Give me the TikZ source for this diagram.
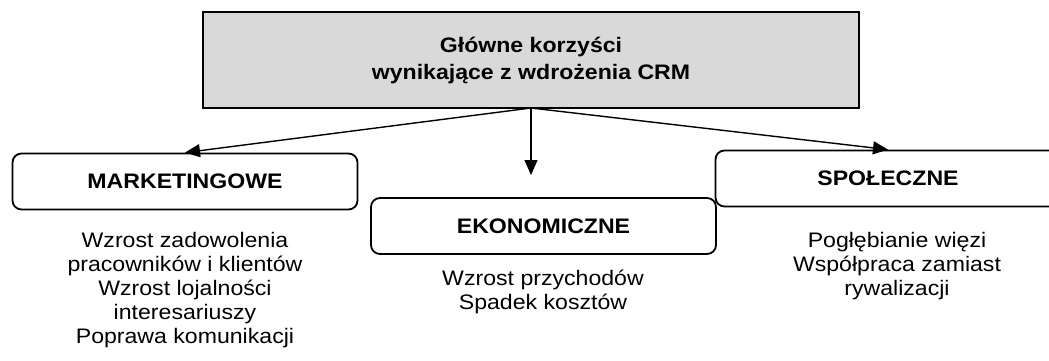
\documentclass[tikz,border=0pt]{standalone}
\usepackage{fontspec}
\setmainfont{Liberation Sans}[FakeStretch=1.1]
\usetikzlibrary{arrows.meta}
\definecolor{boxgray}{HTML}{D9D9D9}
\tikzset{
  titlebox/.style={draw=black, fill=boxgray, line width=1.6pt, minimum width=656pt, minimum height=96pt, inner sep=0pt, align=center, font=\fontsize{21}{27}\selectfont\bfseries},
  catbox/.style={draw=black, rounded corners=9pt, line width=1.8pt, minimum width=345pt, minimum height=56pt, inner sep=0pt, font=\fontsize{21}{24}\selectfont\bfseries},
  bodytext/.style={inner sep=0pt, align=center, font=\fontsize{21}{24}\selectfont},
  conn/.style={line width=1.4pt, -{Triangle[length=15pt,width=13pt]}}
}
\begin{document}
\begin{tikzpicture}[x=1pt,y=-1pt]
\useasboundingbox (0,0) rectangle (1049,361);
\clip (0,0) rectangle (1049,361);
\node[titlebox] (top) at (531,60) {Główne korzyści\\wynikające z wdrożenia CRM};
\node[catbox] (mk) at (185,181.5) {MARKETINGOWE};
\node[catbox] (ek) at (543.5,226) {EKONOMICZNE};
\node[catbox] (sp) at (888,178.5) {SPOŁECZNE};
\node[bodytext] (mkt) at (185,290) {Wzrost zadowolenia\\pracowników i klientów\\Wzrost lojalności\\interesariuszy\\Poprawa komunikacji};
\node[bodytext] (ekt) at (543,292) {Wzrost przychodów\\Spadek kosztów};
\node[bodytext] (spt) at (897,266) {Pogłębianie więzi\\Współpraca zamiast\\rywalizacji};
\coordinate (src) at (531,108);
\coordinate (ekend) at (531,175);
\draw[conn] (src) -- (mk.north);
\draw[conn] (src) -- (ekend);
\draw[conn] (src) -- (sp.north);
\end{tikzpicture}
\end{document}
